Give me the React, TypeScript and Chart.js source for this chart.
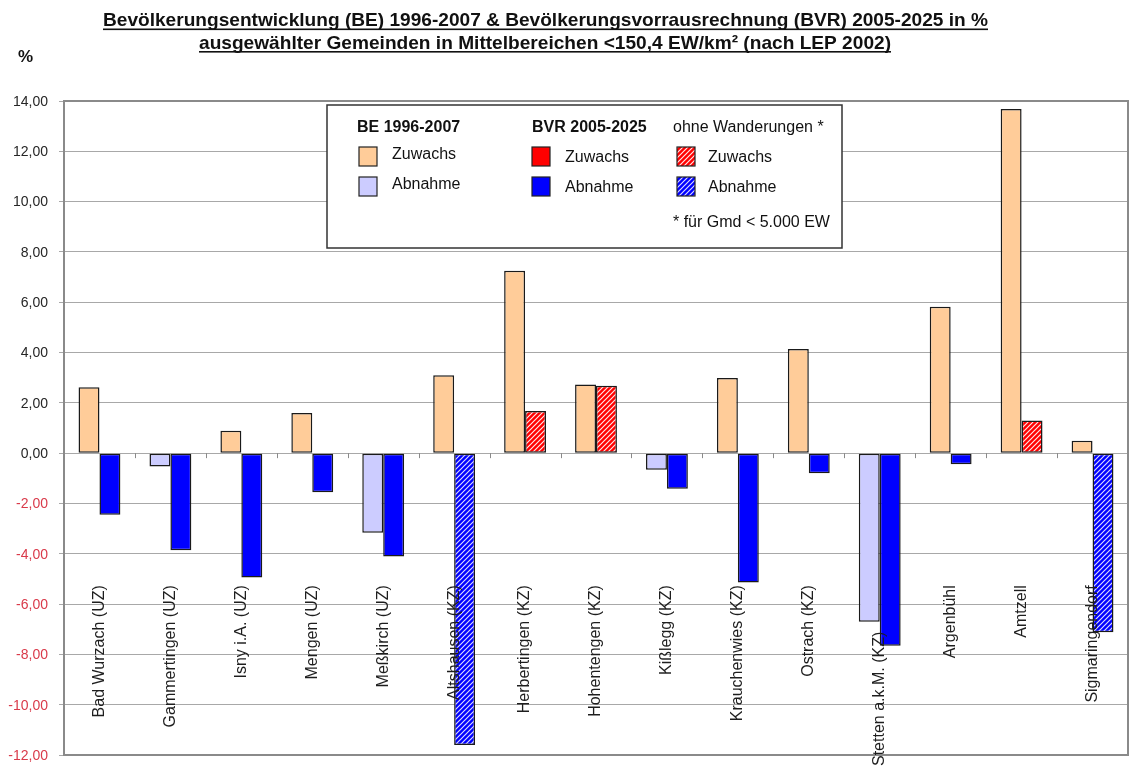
import React, { useEffect, useRef } from 'react';
import { Chart, registerables } from 'chart.js';

Chart.register(...registerables);

// ---------- data ----------
const categories = [
  'Bad Wurzach (UZ)',
  'Gammertingen (UZ)',
  'Isny i.A. (UZ)',
  'Mengen (UZ)',
  'Meßkirch (UZ)',
  'Altshausen (KZ)',
  'Herbertingen (KZ)',
  'Hohentengen (KZ)',
  'Kißlegg (KZ)',
  'Krauchenwies (KZ)',
  'Ostrach (KZ)',
  'Stetten a.k.M. (KZ)',
  'Argenbühl',
  'Amtzell',
  'Sigmaringendorf',
];
const be1996_2007 = [2.62, -0.53, 0.89, 1.6, -3.16, 3.1, 7.25, 2.73, -0.66, 2.99, 4.14, -6.7, 5.82, 13.68, 0.49];
const bvr2005_2025 = [-2.45, -3.86, -4.94, -1.55, -4.11, -11.6, 1.68, 2.68, -1.42, -5.14, -0.8, -7.66, -0.44, 1.3, -7.12];
const ohneWanderungen = [false, false, false, false, false, true, true, true, false, false, false, false, false, true, true];

const yMin = -12;
const yMax = 14;
const yStep = 2;

const titleLines = [
  'Bevölkerungsentwicklung (BE) 1996-2007 & Bevölkerungsvorrausrechnung (BVR) 2005-2025 in %',
  'ausgewählter Gemeinden in Mittelbereichen <150,4 EW/km² (nach LEP 2002)',
];
const unitLabel = '%';
const legendHeaders = ['BE 1996-2007', 'BVR 2005-2025', 'ohne Wanderungen *'];
const legendItems = ['Zuwachs', 'Abnahme'];
const legendNote = '* für Gmd < 5.000 EW';

// ---------- styles ----------
const FONT = '"Liberation Sans", Arial, Helvetica, sans-serif';
const ORANGE = '#FFCC99';
const LAVENDER = '#CCCCFF';
const RED = '#FF0000';
const BLUE = '#0000FF';
const NEG_TICK = '#D93A4A';
const POS_TICK = '#262626';
const GRID = '#a8a8a8';
const FRAME = '#8a8a8a';

function makeHatch(bg: string, stripe: string): CanvasPattern | string {
  const s = 5;
  const c = document.createElement('canvas');
  c.width = s;
  c.height = s;
  const g = c.getContext('2d');
  if (!g) return bg;
  g.fillStyle = bg;
  g.fillRect(0, 0, s, s);
  g.strokeStyle = stripe;
  g.lineWidth = 1.2;
  g.beginPath();
  g.moveTo(0, s);
  g.lineTo(s, 0);
  g.moveTo(-1, 1);
  g.lineTo(1, -1);
  g.moveTo(s - 1, s + 1);
  g.lineTo(s + 1, s - 1);
  g.stroke();
  return g.createPattern(c, 'repeat') || bg;
}

const fmt = (v: number) => v.toFixed(2).replace('.', ',');

export default function App() {
  const ref = useRef<HTMLCanvasElement | null>(null);

  useEffect(() => {
    const canvas = ref.current;
    if (!canvas) return;
    const redHatch = makeHatch(RED, 'rgba(255,255,255,0.9)');
    const blueHatch = makeHatch(BLUE, 'rgba(255,255,255,0.85)');

    const decor = {
      id: 'decor',
      beforeDraw(chart: any) {
        const ctx = chart.ctx;
        ctx.save();
        ctx.fillStyle = '#ffffff';
        ctx.fillRect(0, 0, chart.width, chart.height);
        ctx.restore();
      },
      afterDraw(chart: any) {
        const ctx: CanvasRenderingContext2D = chart.ctx;
        const area = chart.chartArea;
        const xs = chart.scales.x;
        const ys = chart.scales.y;
        ctx.save();

        // plot frame
        ctx.strokeStyle = FRAME;
        ctx.lineWidth = 2;
        ctx.strokeRect(area.left, area.top, area.right - area.left, area.bottom - area.top);

        // y tick labels (from the scale's ticks)
        ctx.font = `14px ${FONT}`;
        ctx.textAlign = 'right';
        ctx.textBaseline = 'middle';
        ys.ticks.forEach((t: any) => {
          const y = ys.getPixelForValue(t.value);
          ctx.fillStyle = t.value < 0 ? NEG_TICK : POS_TICK;
          ctx.fillText(fmt(t.value), area.left - 16, y + 1);
        });

        // category tick marks on zero line
        const y0 = ys.getPixelForValue(0);
        const cw = xs.getPixelForValue(1) - xs.getPixelForValue(0);
        ctx.strokeStyle = FRAME;
        ctx.lineWidth = 1;
        for (let i = 1; i < categories.length; i++) {
          const bx = Math.round(xs.getPixelForValue(i) - cw / 2) + 0.5;
          ctx.beginPath();
          ctx.moveTo(bx, y0);
          ctx.lineTo(bx, y0 + 5);
          ctx.stroke();
        }

        // category labels (rotated)
        ctx.fillStyle = '#1e1e1e';
        ctx.font = `16px ${FONT}`;
        ctx.textAlign = 'right';
        ctx.textBaseline = 'middle';
        categories.forEach((label, i) => {
          const x = xs.getPixelForValue(i);
          const topVal = label.startsWith('Stetten') ? -7.1 : -5.25;
          const yTop = ys.getPixelForValue(topVal);
          ctx.save();
          ctx.translate(x, yTop);
          ctx.rotate(-Math.PI / 2);
          ctx.fillText(label, 0, 0);
          ctx.restore();
        });

        // title (bold, underlined)
        ctx.fillStyle = '#111';
        ctx.font = `bold 19px ${FONT}`;
        ctx.textAlign = 'center';
        ctx.textBaseline = 'alphabetic';
        const titleSpecs = [
          { cx: 545.5, y: 26, w: 885 },
          { cx: 545, y: 48.5, w: 692 },
        ];
        titleLines.forEach((t, i) => {
          const sp = titleSpecs[i];
          const mw = ctx.measureText(t).width;
          ctx.save();
          ctx.translate(sp.cx, sp.y);
          ctx.scale(sp.w / mw, 1);
          ctx.fillText(t, 0, 0);
          ctx.restore();
          ctx.fillRect(sp.cx - sp.w / 2, sp.y + 2.5, sp.w, 1.6);
        });

        // unit label
        ctx.font = `bold 17px ${FONT}`;
        ctx.textAlign = 'left';
        ctx.textBaseline = 'middle';
        ctx.fillText(unitLabel, 18, 57);

        // legend box
        const L = { x: 327, y: 105, w: 515, h: 143 };
        ctx.fillStyle = '#ffffff';
        ctx.fillRect(L.x, L.y, L.w, L.h);
        ctx.strokeStyle = '#333';
        ctx.lineWidth = 1.5;
        ctx.strokeRect(L.x, L.y, L.w, L.h);

        const colX = [359, 532, 677];
        const headX = [357, 532, 673];
        const textX = [392, 565, 708];
        const rowY = [147, 177];
        const swatches = [
          [ORANGE, LAVENDER],
          [RED, BLUE],
          [redHatch, blueHatch],
        ];
        ctx.fillStyle = '#111';
        ctx.textBaseline = 'middle';
        legendHeaders.forEach((h, i) => {
          ctx.font = i < 2 ? `bold 16px ${FONT}` : `16px ${FONT}`;
          ctx.fillStyle = '#111';
          ctx.fillText(h, headX[i], 128);
        });
        ctx.font = `16px ${FONT}`;
        swatches.forEach((pair, c) => {
          pair.forEach((fill, r) => {
            ctx.fillStyle = fill as any;
            ctx.fillRect(colX[c], rowY[r], 18, 19);
            ctx.strokeStyle = '#222';
            ctx.lineWidth = 1.2;
            ctx.strokeRect(colX[c], rowY[r], 18, 19);
            ctx.fillStyle = '#111';
            ctx.fillText(legendItems[r], textX[c], rowY[r] + 9 + (c === 0 ? -1 : 2));
          });
        });
        ctx.fillText(legendNote, 673, 223);

        ctx.restore();
      },
    };

    const chart = new Chart(canvas, {
      type: 'bar',
      data: {
        labels: categories,
        datasets: [
          {
            label: legendHeaders[0],
            data: be1996_2007,
            backgroundColor: be1996_2007.map((v) => (v >= 0 ? ORANGE : LAVENDER)),
            borderColor: '#1a1a1a',
            borderWidth: 1.5,
            borderSkipped: false,
          },
          {
            label: legendHeaders[1],
            data: bvr2005_2025,
            backgroundColor: bvr2005_2025.map((v, i) =>
              ohneWanderungen[i] ? (v >= 0 ? redHatch : blueHatch) : v >= 0 ? RED : BLUE
            ) as any,
            borderColor: '#1a1a1a',
            borderWidth: 1.5,
            borderSkipped: false,
          },
        ],
      },
      options: {
        responsive: false,
        animation: false,
        devicePixelRatio: 1,
        layout: { padding: { left: 8, top: 101, right: 3, bottom: 14 } },
        datasets: { bar: { categoryPercentage: 0.59, barPercentage: 1 } },
        plugins: {
          legend: { display: false },
          title: { display: false },
          tooltip: { enabled: false },
        },
        scales: {
          x: { display: false },
          y: {
            min: yMin,
            max: yMax,
            afterFit: (s: any) => {
              s.width = 56;
            },
            ticks: {
              stepSize: yStep,
              display: false,
            },
            grid: { color: GRID, lineWidth: 1, tickLength: 5, drawTicks: true },
            border: { display: false },
          },
        },
      },
      plugins: [decor],
    } as any);

    return () => chart.destroy();
  }, []);

  return (
    <div style={{ position: 'fixed', left: 0, top: 0, width: 1131, height: 769, background: '#fff' }}>
      <canvas ref={ref} width={1131} height={769} style={{ width: 1131, height: 769, display: 'block' }} />
    </div>
  );
}
